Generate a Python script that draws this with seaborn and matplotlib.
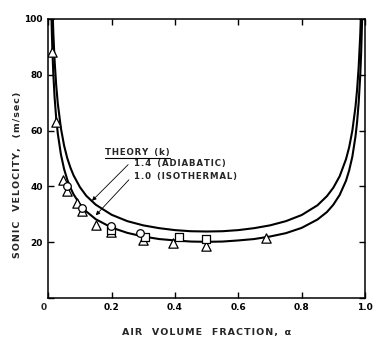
import matplotlib
matplotlib.use("Agg")
import matplotlib.pyplot as plt
import seaborn as sns
import pandas as pd
from matplotlib.lines import Line2D

# ---- data ----
# Theory curve k = 1.4 (adiabatic)
adi_alpha = [0.011, 0.013, 0.016, 0.02, 0.025, 0.03, 0.04, 0.05, 0.06, 0.07, 0.08,
             0.1, 0.12, 0.15, 0.2, 0.25, 0.3, 0.35, 0.4, 0.45, 0.5, 0.55, 0.6, 0.65,
             0.7, 0.75, 0.8, 0.85, 0.88, 0.9, 0.92, 0.94, 0.95, 0.96, 0.97, 0.975,
             0.98, 0.985, 0.988]
adi_vel = [114, 105, 94.9, 85.1, 76.3, 69.8, 60.8, 54.6, 50.1, 46.7, 43.9,
           39.7, 36.6, 33.4, 29.8, 27.5, 26.0, 25.0, 24.3, 23.9, 23.8, 23.9, 24.3, 25.0,
           26.0, 27.5, 29.7, 33.2, 36.5, 39.5, 43.6, 49.7, 54.0, 59.9, 68.5, 74.6,
           82.7, 94.3, 104.3]

# Theory curve k = 1.0 (isothermal)
iso_alpha = [0.009, 0.011, 0.013, 0.016, 0.02, 0.025, 0.03, 0.04, 0.05, 0.06, 0.07,
             0.08, 0.1, 0.12, 0.15, 0.2, 0.25, 0.3, 0.35, 0.4, 0.45, 0.5, 0.55, 0.6,
             0.65, 0.7, 0.75, 0.8, 0.85, 0.88, 0.9, 0.92, 0.94, 0.95, 0.96, 0.97,
             0.975, 0.98, 0.985, 0.988, 0.991, 0.993]
iso_vel = [106.6, 96.5, 88.9, 80.2, 71.9, 64.5, 59.0, 51.4, 46.2, 42.4, 39.5,
           37.1, 33.6, 31.0, 28.2, 25.2, 23.3, 22.0, 21.1, 20.6, 20.2, 20.1, 20.2, 20.6,
           21.1, 22.0, 23.2, 25.1, 28.1, 30.8, 33.4, 36.9, 42.0, 45.7, 50.6, 57.9,
           63.0, 70.0, 79.7, 88.2, 100.2, 111.6]

# Measured points
tri_alpha = [0.011, 0.024, 0.047, 0.058, 0.092, 0.107, 0.151, 0.198, 0.298, 0.395, 0.498, 0.686]
tri_vel = [88.3, 63.2, 42.2, 38.2, 33.9, 31.2, 26.2, 23.8, 20.6, 19.6, 18.6, 21.4]

circ_alpha = [0.060, 0.107, 0.197, 0.290]
circ_vel = [40.1, 32.1, 25.8, 23.2]

sq_alpha = [0.199, 0.305, 0.414, 0.498]
sq_vel = [24.5, 22.0, 21.8, 21.0]

x_ticks = [0, 0.2, 0.4, 0.6, 0.8, 1.0]
x_ticklabels = ["", "0.2", "0.4", "0.6", "0.8", "1.0"]
y_ticks = [0, 20, 40, 60, 80, 100]
y_ticklabels = ["", "20", "40", "60", "80", "100"]


def sp(s):
    return "\u200a".join(s)


sns.set_style("ticks")
plt.rcParams["font.family"] = ["DejaVu Sans"]

fig = plt.figure(figsize=(3.83, 3.44), dpi=100)
ax = fig.add_axes([0.126, 0.134, 0.827, 0.811])

df_adi = pd.DataFrame({"alpha": adi_alpha, "vel": adi_vel})
df_iso = pd.DataFrame({"alpha": iso_alpha, "vel": iso_vel})
sns.lineplot(data=df_adi, x="alpha", y="vel", ax=ax, color="black", lw=1.5,
             sort=False, estimator=None)
sns.lineplot(data=df_iso, x="alpha", y="vel", ax=ax, color="black", lw=1.5,
             sort=False, estimator=None)

mk = dict(facecolor="white", edgecolor="black", linewidth=0.9, zorder=5, ax=ax)
sns.scatterplot(x=tri_alpha, y=tri_vel, marker="^", s=45, **mk)
sns.scatterplot(x=sq_alpha, y=sq_vel, marker="s", s=28, **mk)
sns.scatterplot(x=circ_alpha, y=circ_vel, marker="o", s=30, **mk)

ax.set_xlim(0, 1.0)
ax.set_ylim(0, 100)
ax.set_xticks(x_ticks)
ax.set_xticklabels(x_ticklabels)
ax.set_yticks(y_ticks)
ax.set_yticklabels(y_ticklabels)
ax.tick_params(direction="in", length=4.3, width=1.0, top=True, right=True,
               labelsize=6.5, pad=4, colors="black")
for lab in ax.get_xticklabels() + ax.get_yticklabels():
    lab.set_fontweight("bold")
for s in ax.spines.values():
    s.set_visible(True)
    s.set_linewidth(1.1)
    s.set_color("black")

ax.text(-0.006, -0.017, "0", transform=ax.transAxes, ha="right", va="top",
        fontsize=6.5, fontweight="bold")

ax.set_xlabel(sp("AIR") + "   " + sp("VOLUME") + "   " + sp("FRACTION,") + "  α",
              fontsize=6.8, fontweight="bold", labelpad=11)
ax.set_ylabel(sp("SONIC") + "   " + sp("VELOCITY,") + "   " + sp("(m/sec)"),
              fontsize=6.8, fontweight="bold")
ax.yaxis.set_label_coords(-0.083, 0.44)

# Annotations
tfont = dict(fontsize=6.2, fontweight="bold")
th = ax.text(0.179, 52.2, sp("THEORY") + "  " + sp("(k)"), ha="left", va="center", **tfont)

arrow = dict(arrowstyle="-|>", color="black", lw=0.6, mutation_scale=6,
             shrinkA=2, shrinkB=0)
ax.annotate(sp("1.4") + "  " + sp("(ADIABATIC)"), xy=(0.138, 34.8), xytext=(0.271, 48.0),
            ha="left", va="center",
            arrowprops=dict(connectionstyle="angle,angleA=0,angleB=45,rad=0", **arrow),
            **tfont)
ax.annotate(sp("1.0") + "  " + sp("(ISOTHERMAL)"), xy=(0.150, 29.6), xytext=(0.271, 43.5),
            ha="left", va="center",
            arrowprops=dict(connectionstyle="angle,angleA=0,angleB=47,rad=0", **arrow),
            **tfont)

fig.canvas.draw()
bb = th.get_window_extent().transformed(ax.transAxes.inverted())
ax.add_line(Line2D([bb.x0, bb.x1], [bb.y0 - 0.004, bb.y0 - 0.004], transform=ax.transAxes,
                   color="black", lw=0.8, clip_on=False))

fig.savefig("out.png", dpi=100, facecolor="white")
